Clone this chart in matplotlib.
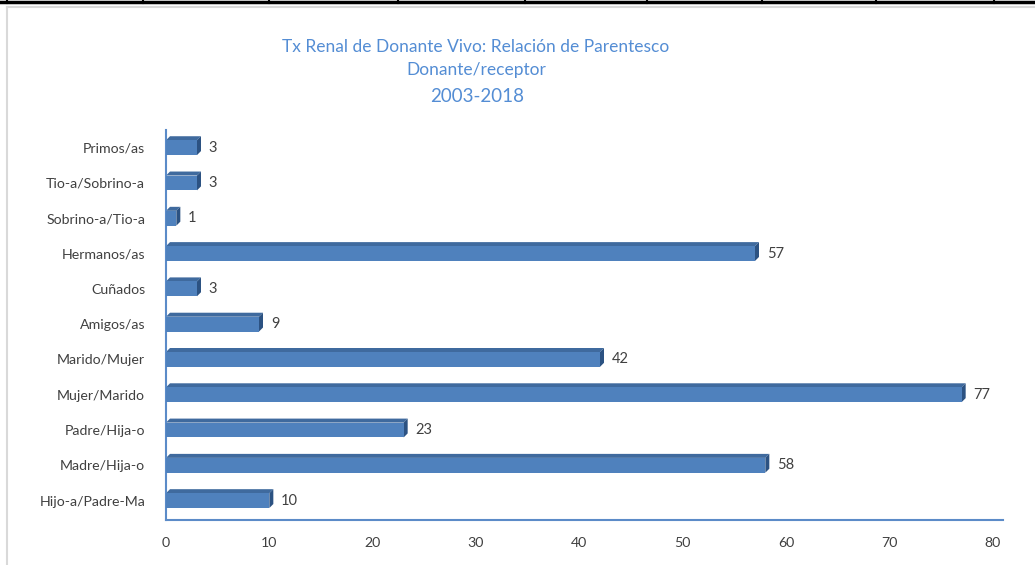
import matplotlib.pyplot as plt
from matplotlib.patches import Polygon
from matplotlib.lines import Line2D

# Datos (de abajo hacia arriba)
categorias = ['Hijo-a/Padre-Ma', 'Madre/Hija-o', 'Padre/Hija-o', 'Mujer/Marido',
              'Marido/Mujer', 'Amigos/as', 'Cuñados', 'Hermanos/as',
              'Sobrino-a/Tio-a', 'Tio-a/Sobrino-a', 'Primos/as']
valores = [10, 58, 23, 77, 42, 9, 3, 57, 1, 3, 3]
ticks_x = [0, 10, 20, 30, 40, 50, 60, 70, 80]

titulo_1 = 'Tx Renal de Donante Vivo: Relación de Parentesco'
titulo_2 = 'Donante/receptor'
subtitulo = '2003-2018'

plt.rcParams['font.family'] = ['Lato', 'DejaVu Sans']

W, H = 1035, 565
fig = plt.figure(figsize=(W / 100, H / 100), dpi=100)
fig.patch.set_facecolor('white')

# Bordes de la hoja de cálculo (decoración)
fig.add_artist(Line2D([0, 1], [1 - 1.5 / H, 1 - 1.5 / H], color='black', lw=2.5))
for px in [7, 143, 269, 398, 525, 647, 762, 876, 994]:
    fig.add_artist(Line2D([px / W, px / W], [1, 1 - 3 / H], color='black', lw=1.5))
fig.add_artist(Line2D([6.5 / W, 6.5 / W], [0, 1 - 6.5 / H], color='#D9D9D9', lw=1.5))
fig.add_artist(Line2D([6.5 / W, 1], [1 - 6.5 / H, 1 - 6.5 / H], color='#D9D9D9', lw=1.5))

ax = fig.add_axes([166 / W, (H - 520) / H, (1003 - 166) / W, (520 - 130) / H])
ax.set_xlim(0, 81)
ax.set_ylim(-0.55, 10.5)

y = list(range(len(categorias)))
alto = 0.42

# Cara frontal
ax.barh(y, valores, height=alto, color='#4F81BD', zorder=3)

# Profundidad 3D en pixeles -> datos
p0 = ax.transData.transform((0, 0))
p1 = ax.transData.transform((1, 1))
dx = 4 / (p1[0] - p0[0])
dy = 4 / (p1[1] - p0[1])

for yi, v in zip(y, valores):
    sup = yi + alto / 2
    inf = yi - alto / 2
    ax.add_patch(Polygon([(0, sup), (v, sup), (v + dx, sup + dy), (dx, sup + dy)],
                         closed=True, facecolor='#3F6A9E', edgecolor='none', zorder=2))
    ax.add_patch(Polygon([(v, inf), (v, sup), (v + dx, sup + dy), (v + dx, inf + dy)],
                         closed=True, facecolor='#2C5282', edgecolor='none', zorder=2))
    ax.text(v + dx + 0.75, yi, str(v), va='center', ha='left',
            fontsize=10.5, color='#404040')

ax.set_yticks(y)
ax.set_yticklabels(categorias)
ax.set_xticks(ticks_x)
ax.tick_params(axis='both', length=0, labelsize=10.2, colors='#404040')
ax.tick_params(axis='y', pad=15)
ax.tick_params(axis='x', pad=12)

for s in ['top', 'right']:
    ax.spines[s].set_visible(False)
for s in ['left', 'bottom']:
    ax.spines[s].set_color('#5B8BC8')
    ax.spines[s].set_linewidth(1.5)

fig.text(476 / W, 1 - 47 / H, titulo_1, ha='center', va='center',
         fontsize=12.5, color='#548DD4')
fig.text(476 / W, 1 - 70 / H, titulo_2, ha='center', va='center',
         fontsize=12.5, color='#548DD4')
fig.text(477 / W, 1 - 96 / H, subtitulo, ha='center', va='center',
         fontsize=13.5, color='#548DD4')

plt.savefig('out.png', dpi=100)
